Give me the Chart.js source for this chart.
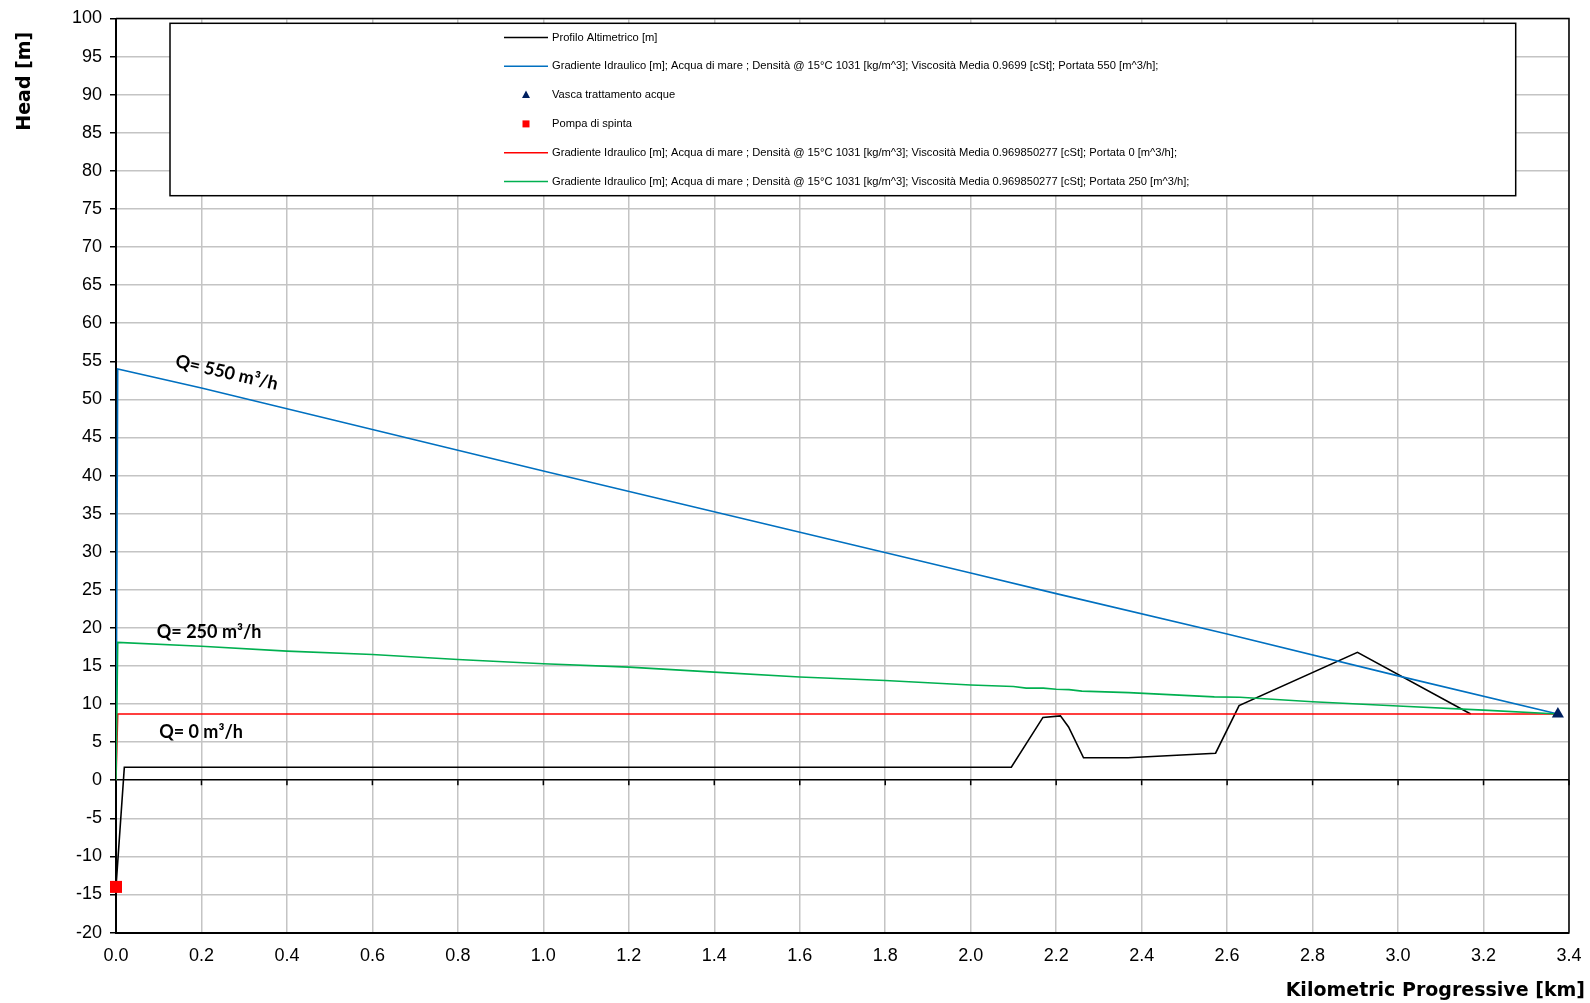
<!DOCTYPE html>
<html>
<head>
<meta charset="utf-8">
<title>Head profile</title>
<script src="https://cdn.jsdelivr.net/npm/chart.js@4.4.1/dist/chart.umd.min.js"></script>
<style>
  html, body { margin: 0; padding: 0; background: #ffffff; }
  canvas { display: block; }
</style>
</head>
<body>
<canvas id="chart" width="1590" height="1003"></canvas>
<script>
// Ground profile along the pipeline [km, m]
const profileKm   = [0, 0.0195, 2.095, 2.169, 2.21, 2.229, 2.264, 2.368, 2.573, 2.628, 2.905, 3.17];
const profileHead = [-14, 1.7, 1.7, 8.25, 8.45, 7.0, 2.95, 2.95, 3.55, 9.8, 16.8, 8.7];

// Hydraulic gradient, Q = 550 m3/h
const grad550Km   = [0, 0.004, 0.2, 1.0, 2.0, 2.2, 2.6, 3.0, 3.374];
const grad550Head = [0, 54.0, 51.5, 40.6, 27.2, 24.5, 19.2, 13.7, 8.7];

// Hydraulic gradient, Q = 0 m3/h
const grad0Km   = [0, 0.004, 3.374];
const grad0Head = [0, 8.7, 8.7];

// Hydraulic gradient, Q = 250 m3/h
const grad250Km   = [0, 0.004, 0.2, 0.4, 0.6, 0.8, 1.0, 1.2, 1.4, 1.6, 1.8, 2.0, 2.1, 2.13, 2.17, 2.2, 2.23, 2.26, 2.37, 2.57, 2.63, 2.8, 3.0, 3.2, 3.374];
const grad250Head = [0, 18.1, 17.6, 16.95, 16.5, 15.85, 15.3, 14.85, 14.2, 13.55, 13.1, 12.5, 12.3, 12.1, 12.1, 11.95, 11.9, 11.7, 11.5, 10.95, 10.9, 10.3, 9.75, 9.2, 8.7];

// Terminal tank and booster pump
const tankKm = [3.374];
const tankHead = [8.7];
const pumpKm = [0];
const pumpHead = [-14];

// Axis ranges and ticks
const xMin = 0, xMax = 3.4, xStep = 0.2;
const yMin = -20, yMax = 100, yStep = 5;

// Series labels
const seriesLabels = [
  'Profilo Altimetrico [m]',
  'Gradiente Idraulico [m]; Acqua di mare ; Densità @ 15°C 1031 [kg/m^3]; Viscosità Media 0.9699 [cSt]; Portata 550 [m^3/h];',
  'Vasca trattamento acque',
  'Pompa di spinta',
  'Gradiente Idraulico [m]; Acqua di mare ; Densità @ 15°C 1031 [kg/m^3]; Viscosità Media 0.969850277 [cSt]; Portata 0 [m^3/h];',
  'Gradiente Idraulico [m]; Acqua di mare ; Densità @ 15°C 1031 [kg/m^3]; Viscosità Media 0.969850277 [cSt]; Portata 250 [m^3/h];'
];

// Flow-rate captions
const flowCaptions = ['Q= 550 m³/h', 'Q= 250 m³/h', 'Q= 0 m³/h'];

const toPoints = (xs, ys) => xs.map((x, i) => ({ x: x, y: ys[i] }));

const TICK_FONT = "'Liberation Sans', Arial, sans-serif";
const TITLE_FONT = "'DejaVu Sans', Verdana, sans-serif";

// Boxed legend drawn inside the plot area
const boxLegend = {
  id: 'boxLegend',
  beforeDatasetsDraw(chart, args, o) {
    const ctx = chart.ctx;
    ctx.save();
    ctx.fillStyle = '#ffffff';
    ctx.fillRect(o.left, o.top, o.right - o.left, o.bottom - o.top);
    ctx.strokeStyle = '#000000';
    ctx.lineWidth = 1.5;
    ctx.strokeRect(o.left, o.top, o.right - o.left, o.bottom - o.top);
    ctx.font = o.font;
    ctx.textBaseline = 'middle';
    ctx.textAlign = 'left';
    chart.data.datasets.forEach((ds, i) => {
      const y = o.firstRow + i * o.rowGap;
      const cx = (o.sampleStart + o.sampleEnd) / 2;
      if (ds.showLine) {
        ctx.strokeStyle = ds.borderColor;
        ctx.lineWidth = 1.5;
        ctx.beginPath();
        ctx.moveTo(o.sampleStart, y);
        ctx.lineTo(o.sampleEnd, y);
        ctx.stroke();
      } else if (ds.pointStyle === 'triangle') {
        ctx.fillStyle = ds.pointBackgroundColor;
        ctx.beginPath();
        ctx.moveTo(cx, y - 4.5);
        ctx.lineTo(cx + 4, y + 3);
        ctx.lineTo(cx - 4, y + 3);
        ctx.closePath();
        ctx.fill();
      } else {
        ctx.fillStyle = ds.pointBackgroundColor;
        ctx.fillRect(cx - 3.5, y - 3.5, 7, 7);
      }
      ctx.fillStyle = '#000000';
      ctx.save();
      ctx.translate(o.textX, y);
      ctx.scale(o.textScale, 1);
      ctx.fillText(ds.label, 0, 0);
      ctx.restore();
    });
    ctx.restore();
  }
};

// Closes the plot frame and marks the zero line with small ticks
const plotFrame = {
  id: 'plotFrame',
  beforeDatasetsDraw(chart) {
    const { ctx, chartArea: a, scales } = chart;
    ctx.save();
    ctx.strokeStyle = '#000000';
    ctx.lineWidth = 1.5;
    ctx.beginPath();
    ctx.moveTo(a.left, a.top);
    ctx.lineTo(a.right, a.top);
    ctx.lineTo(a.right, a.bottom);
    ctx.stroke();
    const y0 = scales.y.getPixelForValue(0);
    ctx.beginPath();
    scales.x.ticks.forEach(t => {
      const px = scales.x.getPixelForValue(t.value);
      ctx.moveTo(px, y0);
      ctx.lineTo(px, y0 + 5);
    });
    ctx.stroke();
    ctx.restore();
  }
};

// Flow-rate captions placed in data coordinates
const captions = {
  id: 'captions',
  afterDatasetsDraw(chart, args, o) {
    const { ctx, scales } = chart;
    ctx.save();
    ctx.fillStyle = '#000000';
    ctx.font = o.font;
    ctx.textAlign = 'center';
    ctx.textBaseline = 'middle';
    o.items.forEach(it => {
      const px = scales.x.getPixelForValue(it.x);
      const py = scales.y.getPixelForValue(it.y);
      ctx.save();
      ctx.translate(px, py);
      ctx.rotate(it.angle * Math.PI / 180);
      ctx.fillText(it.text, 0, 0);
      ctx.restore();
    });
    ctx.restore();
  }
};

const lineDs = (label, pts, color, order) => ({
  label: label,
  data: pts,
  showLine: true,
  borderColor: color,
  backgroundColor: color,
  borderWidth: 1.6,
  pointRadius: 0,
  pointHoverRadius: 0,
  tension: 0,
  order: order
});

new Chart(document.getElementById('chart'), {
  type: 'scatter',
  data: {
    datasets: [
      lineDs(seriesLabels[0], toPoints(profileKm, profileHead), '#000000', 4),
      lineDs(seriesLabels[1], toPoints(grad550Km, grad550Head), '#0070c0', 3),
      {
        label: seriesLabels[2],
        data: toPoints(tankKm, tankHead),
        showLine: false,
        pointStyle: 'triangle',
        pointRadius: 7,
        pointBackgroundColor: '#002060',
        pointBorderColor: '#002060',
        borderWidth: 0,
        clip: false,
        order: 0
      },
      {
        label: seriesLabels[3],
        data: toPoints(pumpKm, pumpHead),
        showLine: false,
        pointStyle: 'rect',
        pointRadius: 8.5,
        pointBackgroundColor: '#ff0000',
        pointBorderColor: '#ff0000',
        borderWidth: 0,
        clip: false,
        order: 0
      },
      lineDs(seriesLabels[4], toPoints(grad0Km, grad0Head), '#ff0000', 2),
      lineDs(seriesLabels[5], toPoints(grad250Km, grad250Head), '#00b050', 1)
    ]
  },
  options: {
    responsive: false,
    animation: false,
    events: [],
    layout: { padding: { left: 0, right: 5, top: 18.5, bottom: 0 } },
    scales: {
      x: {
        type: 'linear',
        min: xMin,
        max: xMax,
        afterFit(s) { s.height = 47.2; s.paddingLeft = 0; s.paddingRight = 0; },
        ticks: {
          stepSize: xStep,
          autoSkip: false,
          maxRotation: 0,
          padding: 13,
          color: '#000000',
          font: { family: TICK_FONT, size: 18 },
          callback: v => Number(v).toFixed(1)
        },
        grid: { color: '#c4c4c4', lineWidth: 1.5, drawTicks: false },
        border: { color: '#000000', width: 2 }
      },
      y: {
        type: 'linear',
        min: yMin,
        max: yMax,
        afterFit(s) { s.width = 116; s.paddingTop = 0; s.paddingBottom = 0; },
        ticks: {
          stepSize: yStep,
          autoSkip: false,
          padding: 8,
          color: '#000000',
          font: { family: TICK_FONT, size: 18 }
        },
        grid: {
          color: c => (c.tick && c.tick.value === 0 ? '#000000' : '#c4c4c4'),
          lineWidth: c => (c.tick && c.tick.value === 0 ? 1.6 : 1.5),
          tickColor: '#000000',
          tickLength: 6
        },
        border: { color: '#000000', width: 2 },
        title: {
          display: true,
          text: 'Head [m]  ',
          align: 'end',
          color: '#000000',
          font: { family: TITLE_FONT, size: 19, weight: 'bold' },
          padding: { top: 13.5, bottom: 0 }
        }
      },
      yR: {
        position: 'right',
        display: true,
        afterFit(s) { s.width = 16; s.paddingTop = 0; s.paddingBottom = 0; },
        ticks: { display: false },
        grid: { display: false, drawTicks: false },
        border: { display: false }
      }
    },
    plugins: {
      legend: { display: false },
      tooltip: { enabled: false },
      title: {
        display: true,
        text: 'Kilometric Progressive [km]',
        position: 'bottom',
        align: 'end',
        color: '#000000',
        font: { family: TITLE_FONT, size: 19, weight: 'bold', lineHeight: 1.2 },
        padding: { top: 0, bottom: 0.4 }
      },
      boxLegend: {
        left: 170, top: 23.3, right: 1515.7, bottom: 195.7,
        firstRow: 37.5, rowGap: 28.8,
        sampleStart: 504, sampleEnd: 548, textX: 552,
        font: "11.5px 'Liberation Sans', Arial, sans-serif",
        textScale: 0.97
      },
      captions: {
        font: "bold 18px Lato, 'Open Sans', sans-serif",
        items: [
          { text: flowCaptions[0], x: 0.259, y: 53.5, angle: 13 },
          { text: flowCaptions[1], x: 0.218, y: 19.4, angle: 0 },
          { text: flowCaptions[2], x: 0.199, y: 6.35, angle: 0 }
        ]
      }
    }
  },
  plugins: [boxLegend, plotFrame, captions]
});
</script>
</body>
</html>
